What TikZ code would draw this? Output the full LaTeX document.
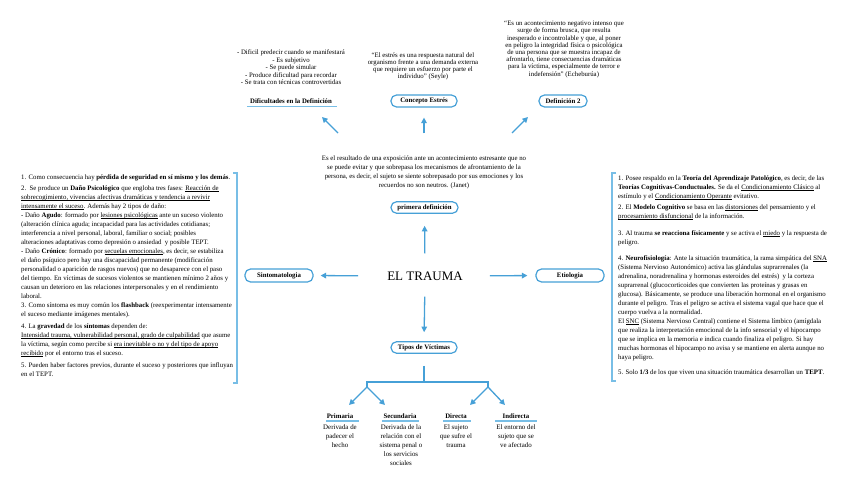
\documentclass[tikz,border=0pt]{standalone}
\usepackage{fontspec}
\setmainfont{Liberation Serif}
\usetikzlibrary{arrows.meta}
\definecolor{tblue}{RGB}{70,160,215}
\definecolor{tline}{RGB}{120,190,230}
\newsavebox\myulbox
\newcommand\myul[1]{\sbox\myulbox{#1}\rlap{\rule[-1.1pt]{\wd\myulbox}{0.35pt}}\usebox\myulbox}
\begin{document}
\begin{tikzpicture}[x=1pt,y=-1pt,
  pill/.style={draw=tblue, line width=1.2pt, rounded corners=5.5pt, font=\bfseries\fontsize{6.8}{7}\selectfont, inner sep=0pt},
  lbl/.style={font=\bfseries\fontsize{6.8}{7}\selectfont, inner sep=0pt},
  body/.style={font=\fontsize{6.8}{9}\selectfont, align=left, inner sep=0pt, anchor=north west},
  topt/.style={font=\fontsize{6.8}{7.2}\selectfont, align=center, inner sep=0pt, anchor=north},
  desc/.style={font=\fontsize{6.9}{9}\selectfont, align=center, inner sep=0pt, anchor=north},
  arr/.style={draw=tblue, line width=1.3pt, -{Triangle[length=5.5pt,width=5.5pt]}},
  tree/.style={draw=tblue, line width=1.3pt},
  ubar/.style={draw=tline, line width=1.6pt},
  side/.style={draw=tline, line width=1.3pt}
]
\useasboundingbox (0,0) rectangle (848,487);
\fill[white] (0,0) rectangle (848,487);

% centre
\node[inner sep=0pt, font=\fontsize{13}{15}\selectfont] (trauma) at (425,276) {EL TRAUMA};
\node[pill, minimum width=68pt, minimum height=13pt] (sint) at (279,275.5) {Sintomatologia};
\node[pill, minimum width=68pt, minimum height=13pt] (etio) at (570,275.5) {Etiologia};
\node[pill, minimum width=67pt, minimum height=11.5pt] (prim) at (424.5,207.5) {primera definición};
\node[pill, minimum width=66pt, minimum height=11.5pt] (tipos) at (424,347.5) {Tipos de Víctimas};

\draw[arr, shorten <=29pt, shorten >=7pt] (trauma.west) -- (sint.east);
\draw[arr, shorten <=27pt, shorten >=8pt] (trauma.east) -- (etio.west);
\draw[arr, shorten <=18pt, shorten >=12pt] (trauma.north) -- (prim.south);
\draw[arr, shorten <=16pt, shorten >=9pt] (trauma.south) -- (tipos.north);

% definition text
\node[topt, font=\fontsize{6.8}{9}\selectfont] (deft) at (424,155.3) {Es el resultado de una exposición ante un acontecimiento estresante que no\\
se puede evitar y que sobrepasa los mecanismos de afrontamiento de la\\
persona, es decir, el sujeto se siente sobrepasado por sus emociones y los\\
recuerdos no son neutros. (Janet)};

% top
\node[lbl] (dif) at (291,101) {Dificultades en la Definición};
\draw[ubar] (247,106.5) -- (337,106.5);
\node[pill, minimum width=66pt, minimum height=12pt] (conc) at (424,101) {Concepto Estrés};
\node[pill, minimum width=48pt, minimum height=12pt] (def2) at (563,101) {Definición 2};

\node[topt, font=\fontsize{6.8}{7.5}\selectfont] (dift) at (291,50) {- Dificil predecir cuando se manifestará\\
- Es subjetivo\\
- Se puede simular\\
- Produce dificultad para recordar\\
- Se trata con técnicas controvertidas};
\node[topt] (conct) at (423,52.3) {“El estrés es una respuesta natural del\\
organismo frente a una demanda externa\\
que requiere un esfuerzo por parte el\\
individuo” (Seyle)};
\node[topt] (def2t) at (564,21) {“Es un acontecimiento negativo intenso que\\
surge de forma brusca, que resulta\\
inesperado e incontrolable y que, al poner\\
en peligro la integridad física o psicológica\\
de una persona que se muestra incapaz de\\
afrontarlo, tiene consecuencias dramáticas\\
para la víctima, especialmente de terror e\\
indefensión” (Echeburúa)};

\coordinate (la1) at (338,133);
\coordinate (la2) at (322,117);
\coordinate (ra1) at (512,133);
\coordinate (ra2) at (528,117);
\draw[arr] (la1) -- (la2);
\draw[arr] (ra1) -- (ra2);
\draw[arr, shorten <=22pt, shorten >=10pt] (deft.north) -- (conc.south);

% left block
\node[body] (left) at (21,174.4) {1. Como consecuencia hay \textbf{pérdida de seguridad en sí mismo y los demás}.\\[2pt]
2.\ \ Se produce un \textbf{Daño Psicológico} que engloba tres fases: \myul{Reacción de}\\
\myul{sobrecogimiento, vivencias afectivas dramáticas y tendencia a revivir}\\
\myul{intensamente el suceso}. Además hay 2 tipos de daño:\\
- Daño \textbf{Agudo}: formado por \myul{lesiones psicológicas} ante un suceso violento\\
(alteración clínica aguda; incapacidad para las actividades cotidianas;\\
interferencia a nivel personal, laboral, familiar o social; posibles\\
alteraciones adaptativas como depresión o ansiedad\ \ y posible TEPT.\\
- Daño \textbf{Crónico}: formado por \myul{secuelas emocionales}, es decir, se estabiliza\\
el daño psíquico pero hay una discapacidad permanente (modificación\\
personalidad o aparición de rasgos nuevos) que no desaparece con el paso\\
del tiempo. En víctimas de sucesos violentos se mantienen mínimo 2 años y\\
causan un deterioro en las relaciones interpersonales y en el rendimiento\\
laboral.\\
3. Como síntoma es muy común los \textbf{flashback} (reexperimentar intensamente\\
el suceso mediante imágenes mentales).\\[3pt]
4. La \textbf{gravedad} de los \textbf{síntomas} dependen de:\\
\myul{Intensidad trauma, vulnerabilidad personal, grado de culpabilidad} que asume\\
la víctima, según como percibe si \myul{era inevitable o no y del tipo de apoyo}\\
\myul{recibido} por el entorno tras el suceso.\\[3pt]
5. Pueden haber factores previos, durante el suceso y posteriores que influyan\\
en el TEPT.};
\draw[side] (233,173) -- (237,173) -- (237,383) -- (233,383);

% right block
\node[body] (right) at (618,175.4) {1. Posee respaldo en la \textbf{Teoría del Aprendizaje Patológico}, es decir, de las\\
\textbf{Teorías Cognitivas-Conductuales.} Se da el \myul{Condicionamiento Clásico} al\\
estímulo y el \myul{Condicionamiento Operante} evitativo.\\[2pt]
2. El \textbf{Modelo Cognitivo} se basa en las \myul{distorsiones} del pensamiento y el\\
\myul{procesamiento disfuncional} de la información.\\[8pt]
3. Al trauma \textbf{se reacciona físicamente} y se activa el \myul{miedo} y la respuesta de\\
peligro.\\[7pt]
4. \textbf{Neurofisiología}: Ante la situación traumática, la rama simpática del \myul{SNA}\\
(Sistema Nervioso Autonómico) activa las glándulas suprarrenales (la\\
adrenalina, noradrenalina y hormonas esteroides del estrés)\ \ y la corteza\\
suprarrenal (glucocorticoides que convierten las proteínas y grasas en\\
glucosa). Básicamente, se produce una liberación hormonal en el organismo\\
durante el peligro. Tras el peligro se activa el sistema vagal que hace que el\\
cuerpo vuelva a la normalidad.\\
El \myul{SNC} (Sistema Nervioso Central) contiene el Sistema límbico (amígdala\\
que realiza la interpretación emocional de la info sensorial y el hipocampo\\
que se implica en la memoria e indica cuando finaliza el peligro. Si hay\\
muchas hormonas el hipocampo no avisa y se mantiene en alerta aunque no\\
haya peligro.\\[6pt]
5. Solo \textbf{1/3} de los que viven una situación traumática desarrollan un \textbf{TEPT}.};
\draw[side] (616,173) -- (612,173) -- (612,381) -- (616,381);

% bottom tree
\coordinate (tv) at (424,382);
\coordinate (bl) at (367,382);
\coordinate (br) at (488,382);
\coordinate (bl1) at (367,387);
\coordinate (br1) at (488,387);
\draw[tree, shorten <=12pt] (tipos.south) -- (tv);
\draw[tree] (bl1) -- (bl) -- (br) -- (br1);

\node[lbl] (pri) at (340,416) {Primaria};
\node[lbl] (sec) at (400,416) {Secundaria};
\node[lbl] (dir) at (456,416) {Directa};
\node[lbl] (ind) at (516,416) {Indirecta};
\draw[ubar] (326,421) -- (359,421);
\draw[ubar] (382,421) -- (419,421);
\draw[ubar] (443,421) -- (471,421);
\draw[ubar] (495,421) -- (537,421);

\coordinate (pa) at (349,405);
\coordinate (sa) at (385,405);
\coordinate (da) at (470,405);
\coordinate (ia) at (505,405);
\draw[arr] (bl1) -- (pa);
\draw[arr] (bl1) -- (sa);
\draw[arr] (br1) -- (da);
\draw[arr] (br1) -- (ia);

\node[desc] (prid) at (340,425) {Derivada de\\padecer el\\hecho};
\node[desc] (secd) at (401,425) {Derivada de la\\relación con el\\sistema penal o\\los servicios\\sociales};
\node[desc] (dird) at (456,425) {El sujeto\\que sufre el\\trauma};
\node[desc] (indd) at (516,425) {El entorno del\\sujeto que se\\ve afectado};
\end{tikzpicture}
\end{document}
